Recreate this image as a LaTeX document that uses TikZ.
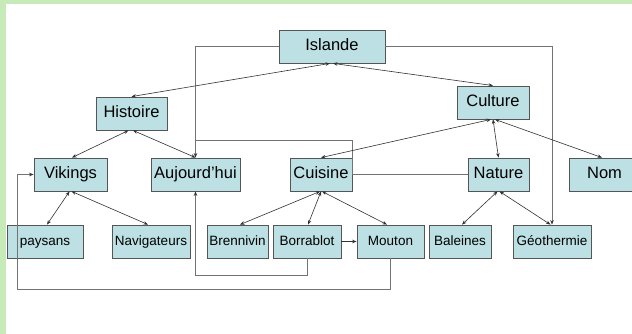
\documentclass[tikz,border=0pt]{standalone}
\usepackage{fontspec}
\setmainfont{Liberation Sans}
\usetikzlibrary{arrows.meta,calc}
\definecolor{bggreen}{RGB}{198,235,185}
\definecolor{boxfill}{RGB}{188,224,227}
\definecolor{boxline}{RGB}{85,85,85}
\definecolor{arrline}{RGB}{50,50,50}
\definecolor{elbline}{RGB}{115,115,115}
\tikzset{
  box/.style={draw=boxline, fill=boxfill, line width=0.8pt, minimum height=33pt, inner sep=0pt, text height=0.72em, text depth=0pt, font=\fontsize{16.5}{18}\selectfont},
  smallbox/.style={box, font=\fontsize{13.5}{15}\selectfont},
  tip/.tip={Stealth[length=4.5pt,width=3.5pt]},
  link/.style={draw=arrline, line width=0.6pt, tip-tip},
  onelink/.style={draw=arrline, line width=0.6pt, -tip},
  elbow/.style={draw=elbline, line width=0.9pt},
  elbowarrow/.style={elbow, -{Stealth[length=4.5pt,width=3.5pt,color=arrline]}}
}
\begin{document}
\begin{tikzpicture}[x=1pt,y=-1pt]
\useasboundingbox (0,0) rectangle (632,334);
\fill[bggreen] (0,0) rectangle (632,334);
\fill[white] (6,4) rectangle (632,334);
% top
\node[box, minimum width=106pt] (Islande) at (332,46.5) {Islande};
\node[box, minimum width=71pt] (Histoire) at (131.5,113.5) {Histoire};
\node[box, minimum width=72pt] (Culture) at (493,102.5) {Culture};
% middle row
\node[box, minimum width=73pt] (Vikings) at (70.5,174.5) {Vikings};
\node[box, minimum width=89pt] (Aujourdhui) at (195.5,174.5) {Aujourd’hui};
\node[box, minimum width=62pt] (Cuisine) at (321,174.5) {Cuisine};
\node[box, minimum width=61pt] (Nature) at (498.5,174.5) {Nature};
\node[box, minimum width=71pt] (Nom) at (604.5,174.5) {Nom};
% bottom row
\node[smallbox, minimum width=76pt] (paysans) at (45,241.5) {paysans};
\node[smallbox, minimum width=78pt] (Navigateurs) at (151,241.5) {Navigateurs};
\node[smallbox, minimum width=61pt] (Brennivin) at (237.5,241.5) {Brennivin};
\node[smallbox, minimum width=68pt] (Borrablot) at (307,241.5) {Borrablot};
\node[smallbox, minimum width=67pt] (Mouton) at (390.5,241.5) {Mouton};
\node[smallbox, minimum width=62pt] (Baleines) at (460,241.5) {Baleines};
\node[smallbox, minimum width=78pt] (Geothermie) at (552,241.5) {Géothermie};
% elbow connectors
\coordinate (k2) at (195.5,140);
\coordinate (k3) at (307,275);
\coordinate (k4) at (17,289);
\draw[elbowarrow] (Islande.west) -| (Aujourdhui.north);
\draw[elbowarrow] (Islande.east) -| (Geothermie.north);
\draw[elbow] (Nature.west) -- (Cuisine.east) |- (k2);
\draw[elbowarrow] (Borrablot.south) -- (k3) -| (Aujourdhui.south);
\draw[elbowarrow] (Mouton.south) |- (k4) |- (Vikings.west);
\draw[onelink] (Borrablot.east) -- (Mouton.west);
% tree links
\draw[link] ($(Islande.south)+(-2,0)$) -- (Histoire.north);
\draw[link] ($(Islande.south)+(1,0)$) -- (Culture.north);
\draw[link] ($(Histoire.south)+(-3,0)$) -- ($(Vikings.north)+(1.5,0)$);
\draw[link] ($(Histoire.south)+(1.5,0)$) -- (Aujourdhui.north);
\draw[link] ($(Culture.south)+(-2,0)$) -- (Cuisine.north);
\draw[link] (Culture.south) -- (Nature.north);
\draw[link] ($(Culture.south)+(2,0)$) -- ($(Nom.north)+(-2.5,0)$);
\draw[link] ($(Vikings.south)+(-1,0)$) -- ($(paysans.north)+(2,0)$);
\draw[link] ($(Vikings.south)+(1,0)$) -- ($(Navigateurs.north)+(-3,0)$);
\draw[link] ($(Cuisine.south)+(-1,0)$) -- ($(Brennivin.north)+(2.5,0)$);
\draw[link] ($(Cuisine.south)+(0,0)$) -- ($(Borrablot.north)+(1,0)$);
\draw[link] ($(Cuisine.south)+(1,0)$) -- ($(Mouton.north)+(-3.5,0)$);
\draw[link] ($(Nature.south)+(-1,0)$) -- ($(Baleines.north)+(2,0)$);
\draw[link] ($(Nature.south)+(1,0)$) -- ($(Geothermie.north)+(-1.5,0)$);
\end{tikzpicture}
\end{document}
